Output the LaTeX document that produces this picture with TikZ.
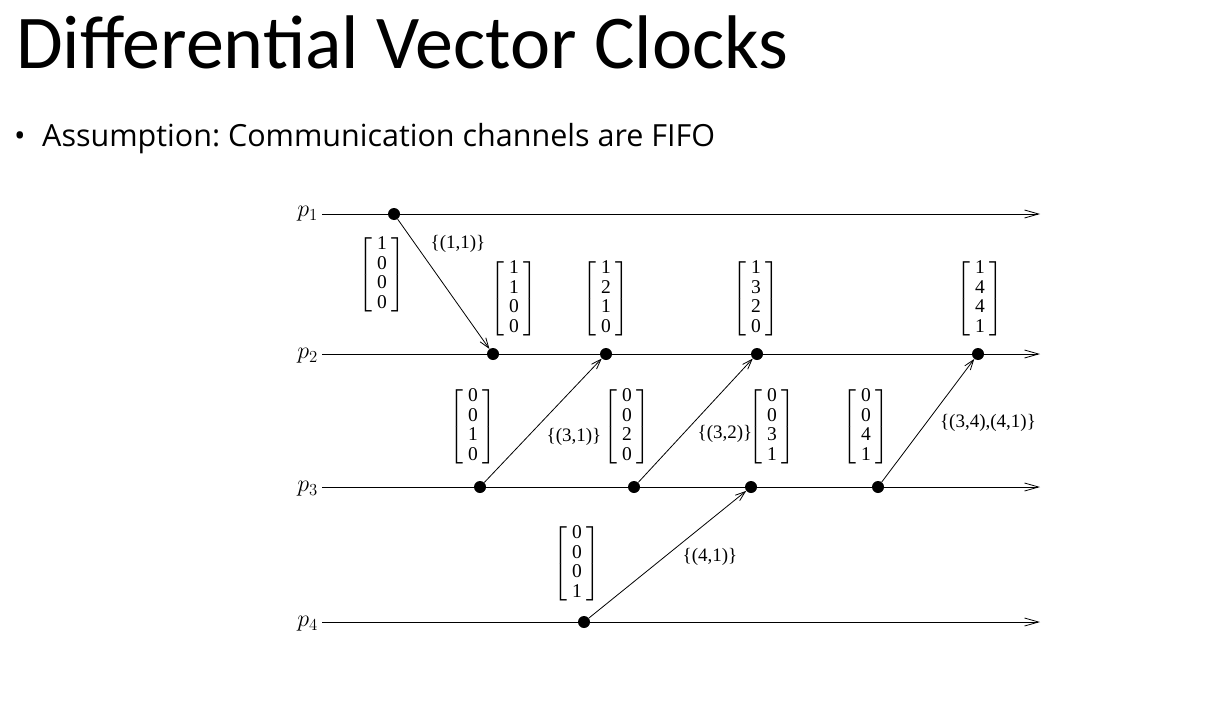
\RequirePackage{fix-cm}
\documentclass[tikz,border=0pt]{standalone}
\usepackage{amsmath}
\usepackage{fontspec}
\setmainfont{Liberation Serif}
\newfontfamily\calibri{Carlito}
\newfontfamily\bodyfont{Open Sans}
\usetikzlibrary{arrows.meta}
\frenchspacing
\tikzset{
  evt/.style={circle,fill=black,inner sep=0pt,minimum size=12pt},
  tline/.style={line width=0.9pt,-{Straight Barb[length=14pt,width=8pt,line width=0.8pt]}},
  msg/.style={line width=0.8pt,-{Straight Barb[length=10pt,width=7pt,line width=0.8pt]}},
  vec/.style={inner sep=0pt,font=\fontsize{19.5}{19.5}\selectfont},
  mlab/.style={inner sep=1pt,font=\fontsize{19}{21}\selectfont},
  plab/.style={inner sep=0pt,anchor=east,font=\fontsize{24}{26}\selectfont}
}
\newcommand{\vc}[4]{$\left[\vcenter{\hbox{\begin{tabular}{@{\hspace{5pt}}c@{\hspace{5pt}}}#1\\#2\\#3\\#4\end{tabular}}}\right]$}
\begin{document}
\begin{tikzpicture}[x=1pt,y=-1pt]
\useasboundingbox (0,0) rectangle (1223,704);
\node[anchor=base west,inner sep=0pt,font=\calibri\fontsize{76}{80}\selectfont] (title) at (16,68) {Differential Vector Clocks};
\node[anchor=base west,inner sep=0pt,font=\bodyfont\fontsize{30.5}{34}\selectfont] (bultxt) at (42,146) {Assumption: Communication channels are FIFO};
\node[anchor=base west,inner sep=0pt,font=\bodyfont\fontsize{30.5}{34}\selectfont] (bul) at (14,146) {•};
% process labels
\node[plab] (p1) at (318,214) {$p_1$};
\node[plab] (p2) at (318,356) {$p_2$};
\node[plab] (p3) at (318,489) {$p_3$};
\node[plab] (p4) at (318,624) {$p_4$};
\coordinate (s1) at (322,214); \coordinate (e1) at (1040,214);
\coordinate (s2) at (322,354); \coordinate (e2) at (1040,354);
\coordinate (s3) at (322,487); \coordinate (e3) at (1040,487);
\coordinate (s4) at (322,622); \coordinate (e4) at (1040,622);
\draw[tline] (s1) -- (e1);
\draw[tline] (s2) -- (e2);
\draw[tline] (s3) -- (e3);
\draw[tline] (s4) -- (e4);
% events
\node[evt] (a1) at (394,214) {};
\node[evt] (b1) at (493,354) {};
\node[evt] (b2) at (606,354) {};
\node[evt] (b3) at (757,354) {};
\node[evt] (b4) at (978,354) {};
\node[evt] (c1) at (480,487) {};
\node[evt] (c2) at (634,487) {};
\node[evt] (c3) at (751,487) {};
\node[evt] (c4) at (878,487) {};
\node[evt] (d1) at (584,622) {};
% messages
\draw[msg] (a1) -- (b1);
\draw[msg] (c1) -- (b2);
\draw[msg] (c2) -- (b3);
\draw[msg] (d1) -- (c3);
\draw[msg] (c4) -- (b4);
\node[mlab] (l1) at (458,244) {\{(1,1)\}};
\node[mlab] (l2) at (574,437) {\{(3,1)\}};
\node[mlab] (l3) at (725,434) {\{(3,2)\}};
\node[mlab] (l4) at (710,557) {\{(4,1)\}};
\node[mlab] (l5) at (988,423) {\{(3,4),(4,1)\}};
% vectors
\node[vec] (v1) at (382,275) {\vc1000};
\node[vec] (v2) at (514,299) {\vc1100};
\node[vec] (v3) at (606,299) {\vc1210};
\node[vec] (v4) at (756,299) {\vc1320};
\node[vec] (v5) at (980,299) {\vc1441};
\node[vec] (v6) at (473,427) {\vc0010};
\node[vec] (v7) at (627,427) {\vc0020};
\node[vec] (v8) at (772,427) {\vc0031};
\node[vec] (v9) at (866,427) {\vc0041};
\node[vec] (v10) at (577,564) {\vc0001};
\end{tikzpicture}
\end{document}
